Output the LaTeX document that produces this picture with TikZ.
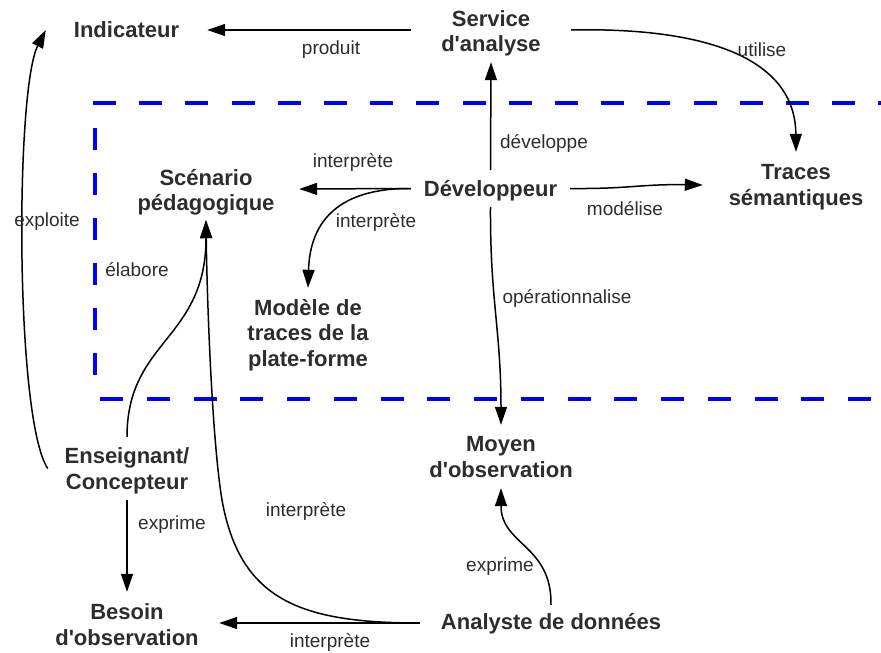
\documentclass[tikz,border=0pt]{standalone}
\usepackage{fontspec}
\setmainfont{Liberation Sans}[Ligatures=TeXOff]
\usetikzlibrary{arrows.meta}
\definecolor{txt}{RGB}{45,45,45}
\definecolor{zoneblue}{RGB}{0,0,255}
\newcommand{\tp}[1]{\rule{0pt}{#1pt}}
\newcommand{\bt}{\rule[-7pt]{0pt}{7pt}}
\begin{document}
\begin{tikzpicture}[x=1pt,y=-1pt,
  concept/.style={font=\fontsize{22}{25.5}\selectfont\bfseries, text=txt, align=center, inner sep=0pt},
  rel/.style={font=\fontsize{19}{22}\selectfont, text=txt, inner sep=0pt},
  conn/.style={line width=1.5pt, draw=black, -{Triangle[length=18pt,width=12pt]}},
  zone/.style={draw=zoneblue, line width=4pt}]
\useasboundingbox (0,0) rectangle (881,653);
% zone
\draw[zone, dash pattern=on 23pt off 23.2pt] (93,103) -- (881,103);
\draw[zone, dash pattern=on 22pt off 23pt] (95,128) -- (95,381);
\draw[zone, dash pattern=on 23pt off 23.75pt] (100,399) -- (881,399);
% concepts
\node[concept, minimum width=161pt, minimum height=30pt] (ind) at (126.5,30) {\tp{22.5}Indicateur\bt};
\node[concept, minimum width=160pt, minimum height=64pt] (serv) at (491,30) {\tp{24.5}Service\\d'analyse\bt};
\node[concept, minimum width=159pt, minimum height=37pt] (dev) at (490.5,188.5) {\tp{23}Développeur\bt};
\node[concept, minimum width=186pt, minimum height=62pt] (scen) at (206,189) {\tp{24.5}Scénario\\pédagogique\bt};
\node[concept, minimum width=140pt, minimum height=88pt] (mod) at (308,332) {\tp{24}Modèle de\\traces de la\\plate-forme\bt};
\node[concept, minimum width=186pt, minimum height=66pt] (trac) at (796,185) {\tp{21.5}Traces\\sémantiques\bt};
\node[concept, minimum width=150pt, minimum height=63pt] (moy) at (501,456.5) {\tp{22.5}Moyen\\d'observation\bt};
\node[concept, minimum width=158pt, minimum height=63pt] (ens) at (127,468.5) {\tp{22.5}Enseignant/\\Concepteur\bt};
\node[concept, minimum width=184pt, minimum height=62pt] (bes) at (127,623) {\tp{25.5}Besoin\\d'observation\bt};
\node[concept, minimum width=262pt, minimum height=36pt] (ana) at (551,623) {\tp{20}Analyste de données\bt};
\coordinate (bend) at (222,500);
% connectors
\draw[conn] (serv.west) -- (ind.east);
\draw[conn] (serv.east) .. controls (660,28) and (795,40) .. (trac.north);
\draw[conn] (dev.north) -- (serv.south);
\draw[conn] (dev.east) .. controls (630,189) and (640,184) .. (trac.west);
\draw[conn] (dev.west) -- (scen.east);
\draw[conn] (dev.west) .. controls (340,188) and (310,220) .. (mod.north);
\draw[conn] (dev.south) .. controls (490,300) and (501,330) .. (moy.north);
\draw[conn] (ana.north) .. controls (552,545) and (501,545) .. (moy.south);
\draw[conn] (ana.west) -- (bes.east);
\draw[conn] (ana.west) .. controls (300,623) and (240,600) .. (bend) .. controls (212,440) and (207,300) .. (scen.south);
\draw[conn] (ens.north) .. controls (127,340) and (206,340) .. (scen.south);
\draw[conn] (ens.south) -- (bes.north);
\draw[conn] (ens.west) .. controls (15,420) and (15,90) .. (ind.west);
% labels
\node[rel] (lproduit) at (331,50) {produit};
\node[rel] (lutilise) at (762,50) {utilise};
\node[rel] (ldev) at (544,143) {développe};
\node[rel] (lint1) at (353,162) {interprète};
\node[rel] (lint2) at (376,222) {interprète};
\node[rel] (lmod) at (625,209) {modélise};
\node[rel] (lop) at (567,298) {opérationnalise};
\node[rel] (lexp1) at (500,567) {exprime};
\node[rel] (lint3) at (330,642) {interprète};
\node[rel] (lint4) at (306,511) {interprète};
\node[rel] (lexp2) at (172,525) {exprime};
\node[rel] (lela) at (137,270) {élabore};
\node[rel] (lexploite) at (47,222) {exploite};
\end{tikzpicture}
\end{document}
